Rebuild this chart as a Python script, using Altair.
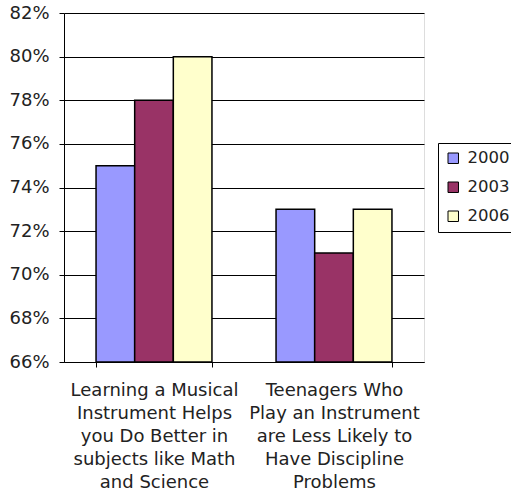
import altair as alt
import pandas as pd

categories = [
    "Learning a Musical|Instrument Helps|you Do Better in|subjects like Math|and Science",
    "Teenagers Who|Play an Instrument|are Less Likely to|Have Discipline|Problems",
]
years = ["2000", "2003", "2006"]
values_2000 = [0.75, 0.73]
values_2003 = [0.78, 0.71]
values_2006 = [0.80, 0.73]
colors = ["#9999FF", "#993366", "#FFFFCC"]
y_ticks = [0.66, 0.68, 0.70, 0.72, 0.74, 0.76, 0.78, 0.80, 0.82]

rows = []
for i, c in enumerate(categories):
    for y, vals in zip(years, [values_2000, values_2003, values_2006]):
        rows.append({"category": c, "year": y, "value": vals[i]})
df = pd.DataFrame(rows)

FONT = "DejaVu Sans"

chart = alt.Chart(df).mark_bar(stroke="black", strokeWidth=1.5).encode(
    x=alt.X("category:N", sort=categories, title=None,
            scale=alt.Scale(paddingInner=0.356, paddingOuter=0.178),
            axis=alt.Axis(labelAngle=0, labelExpr="split(datum.label, '|')",
                          labelLineHeight=23, labelFontSize=18, labelPadding=14,
                          tickBand="extent", tickSize=5, tickColor="black",
                          domainColor="black", labelColor="#222")),
    xOffset=alt.XOffset("year:N", sort=years),
    y=alt.Y("value:Q", title=None,
            scale=alt.Scale(domain=[0.66, 0.82], zero=False, nice=False),
            axis=alt.Axis(format=".0%", values=y_ticks,
                          grid=True, gridColor="black", gridOpacity=1, gridWidth=1,
                          tickSize=5, tickColor="black", domainColor="black",
                          labelFontSize=18, labelPadding=10, labelColor="#222")),
    y2=alt.datum(0.66),
    color=alt.Color("year:N", sort=years,
                    scale=alt.Scale(domain=years, range=colors),
                    legend=alt.Legend(title=None, orient="none", legendX=374, legendY=130,
                                      symbolType="square", symbolSize=110,
                                      symbolStrokeColor="black", symbolStrokeWidth=1,
                                      labelFontSize=16.5, labelColor="#222",
                                      strokeColor="black", padding=7,
                                      rowPadding=12, labelOffset=6)),
).properties(
    width=360, height=349,
    autosize=alt.AutoSizeParams(type="none"),
    padding={"left": 64, "top": 13, "right": 87, "bottom": 131},
).configure_view(
    fill="#C0C0C0", stroke="#808080", strokeWidth=1
).configure(font=FONT, background="white")

chart.save("out.html", embed_options={"renderer": "svg", "actions": False})
